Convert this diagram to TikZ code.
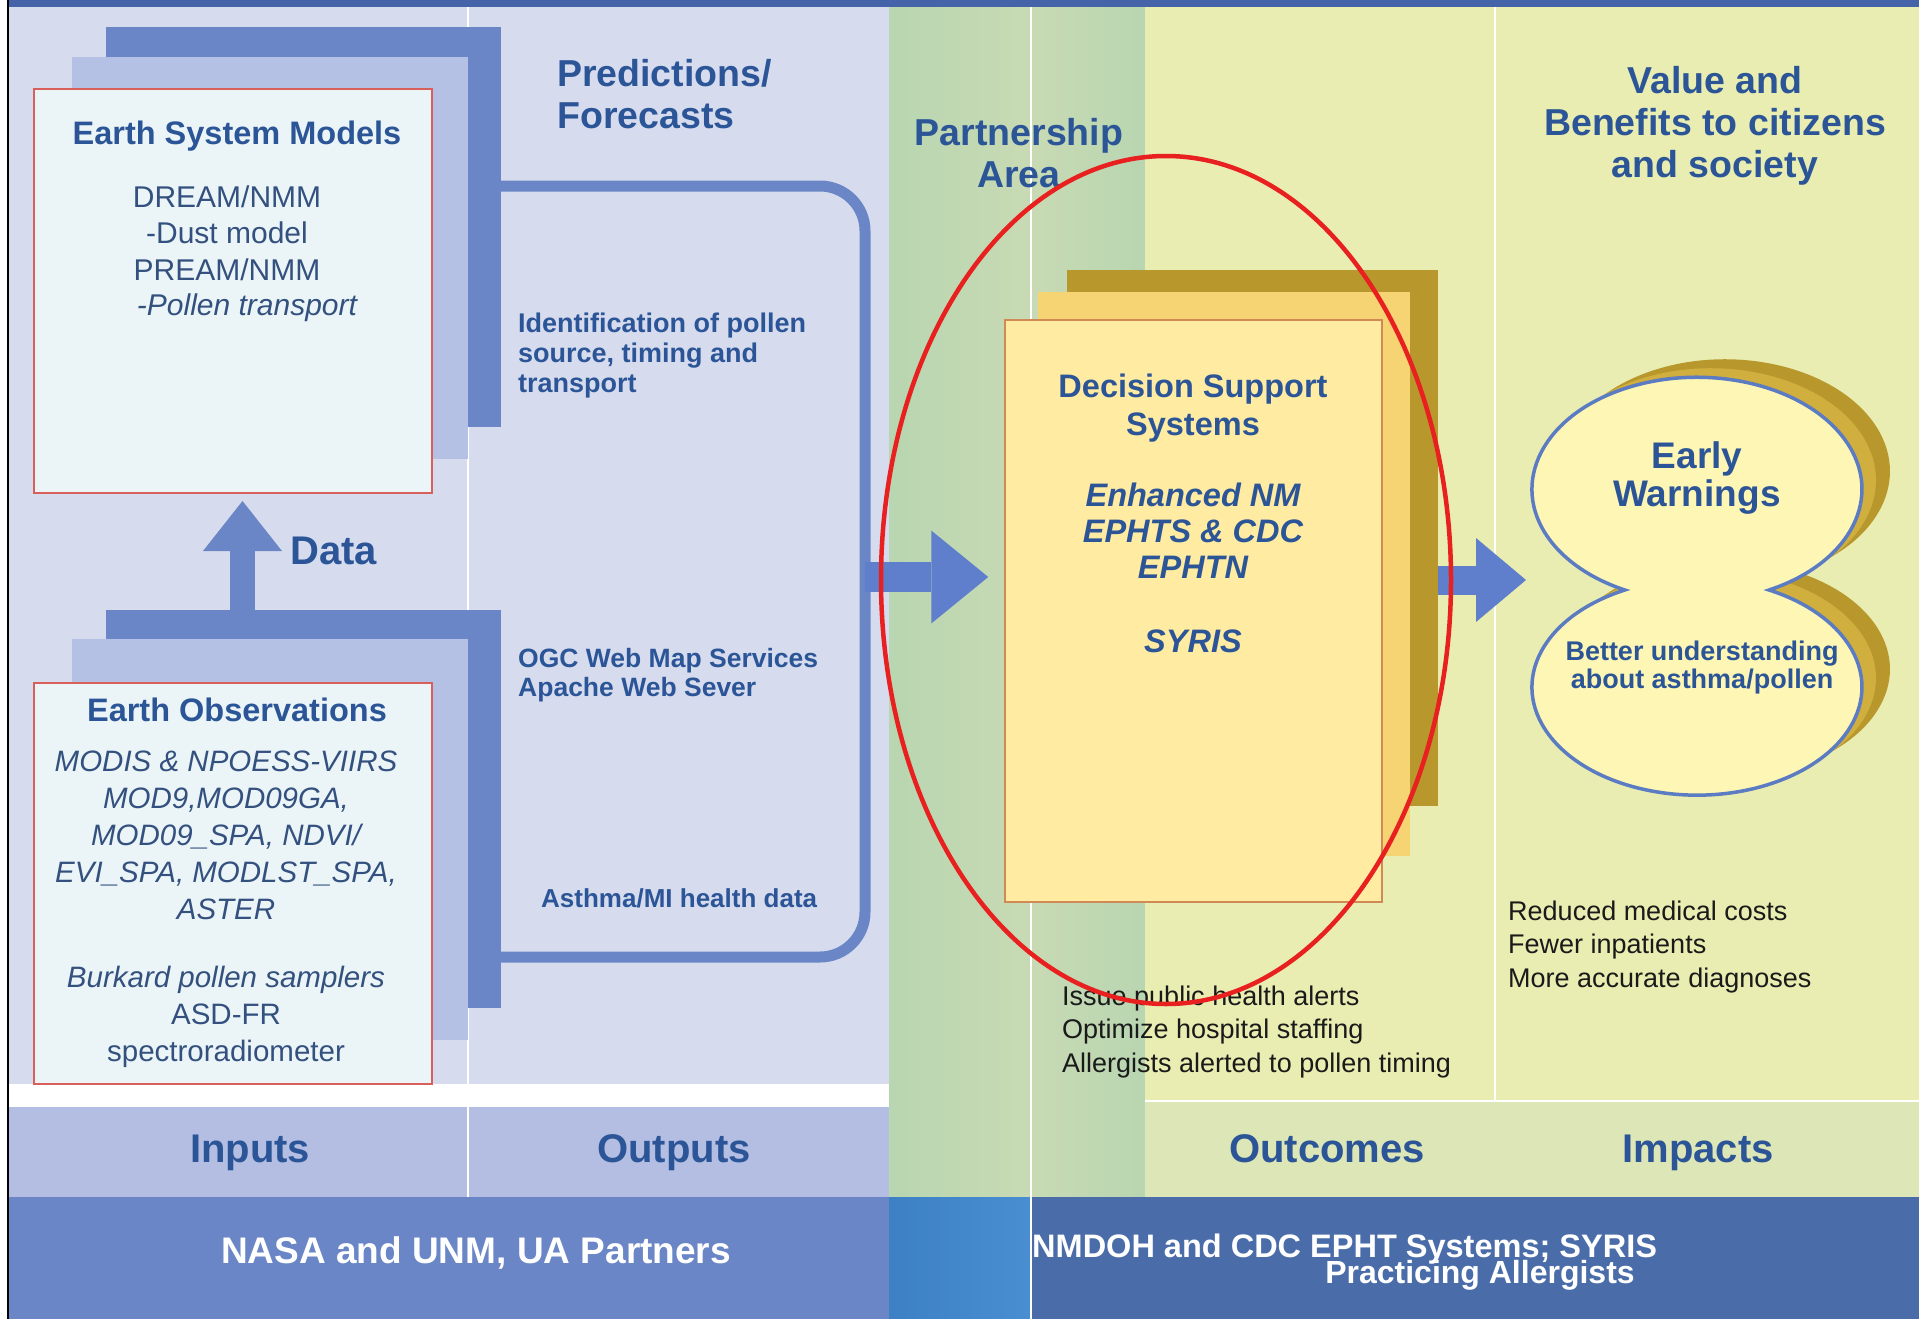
\documentclass[tikz,border=0pt]{standalone}
\usepackage{fontspec}
\setmainfont{Liberation Sans}
\usetikzlibrary{positioning, arrows.meta}

\definecolor{bgblue}{HTML}{D6DCEE}
\definecolor{barblue}{HTML}{6A86C6}
\definecolor{layerblue}{HTML}{B4C0E4}
\definecolor{boxcyan}{HTML}{EBF5F7}
\definecolor{boxred}{HTML}{D9605A}
\definecolor{titleblue}{HTML}{2B5597}
\definecolor{bodyblue}{HTML}{33507F}
\definecolor{bandblue}{HTML}{B3BEE2}
\definecolor{footblue}{HTML}{6A86C6}
\definecolor{footdark}{HTML}{4A6DAA}
\definecolor{footmidA}{HTML}{3D80C4}
\definecolor{footmidB}{HTML}{4A8ED2}
\definecolor{topblue}{HTML}{4463A8}
\definecolor{arrowblue}{HTML}{5F7FCC}
\definecolor{greenA}{HTML}{C8DAB4}
\definecolor{greenB}{HTML}{B8D6B1}
\definecolor{paleyellow}{HTML}{E9EDB1}
\definecolor{bandyellow}{HTML}{DDE6B6}
\definecolor{golddark}{HTML}{B8982C}
\definecolor{goldmid}{HTML}{F6D473}
\definecolor{dssfill}{HTML}{FFEBA1}
\definecolor{dssline}{HTML}{CF8A55}
\definecolor{ewfill}{HTML}{FEF6B4}
\definecolor{ewline}{HTML}{5B7BC2}
\definecolor{ewgold}{HTML}{D1AF3E}
\definecolor{markred}{HTML}{E82020}
\definecolor{darktext}{HTML}{1A1A1A}

\begin{document}
\begin{tikzpicture}[x=1pt, y=-1pt,
        sepline/.style={white, line width=2.5pt},
        backbar/.style={fill=barblue, inner sep=0, outer sep=0},
        frontbox/.style={fill=boxcyan, draw=boxred, line width=1.5pt, inner sep=0, outer sep=0},
        boxtitle/.style={font=\bfseries\fontsize{32.5}{38}\selectfont, text=titleblue, inner sep=0, align=center},
        boxbody/.style={font=\fontsize{30}{36.5}\selectfont, text=bodyblue, inner sep=0, align=center},
        coltitle/.style={font=\bfseries\fontsize{37.5}{42}\selectfont, text=titleblue, inner sep=0, align=center},
        outlabel/.style={font=\bfseries\fontsize{27}{30}\selectfont, text=titleblue, inner sep=0, align=left, anchor=west},
        bandlabel/.style={font=\bfseries\fontsize{40}{44}\selectfont, text=titleblue, inner sep=0},
        footlabel/.style={font=\bfseries\fontsize{37}{40}\selectfont, text=white, inner sep=0},
        plainlist/.style={font=\fontsize{27}{33.5}\selectfont, text=darktext, inner sep=0, align=left, anchor=west},
        bracket/.style={draw=barblue, line width=11pt, rounded corners=45pt},
        fatarrow/.style={draw=arrowblue, line width=30pt, -{Triangle[length=57pt, width=93pt, line width=0pt]}},
        midarrow/.style={draw=arrowblue, line width=29pt, -{Triangle[length=50pt, width=84pt, line width=0pt]}},
        dataarrow/.style={draw=barblue, line width=25pt, -{Triangle[length=50pt, width=79pt, line width=0pt]}}]

    \useasboundingbox (0,0) rectangle (1919,1319);

    % background columns
    \fill[white] (0,0) rectangle (1919,1319);
    \fill[bgblue] (7,7) rectangle (889,1084);
    \fill[bandblue] (7,1107) rectangle (889,1197);
    \fill[footblue] (7,1197) rectangle (889,1319);
    \shade[left color=greenB, right color=greenA] (889,7) rectangle (1031,1197);
    \shade[left color=greenA, right color=greenB] (1031,7) rectangle (1145,1197);
    \fill[paleyellow] (1145,7) rectangle (1919,1101);
    \fill[bandyellow] (1145,1101) rectangle (1919,1197);
    \shade[left color=footmidA, right color=footmidB] (889,1197) rectangle (1031,1319);
    \fill[footdark] (1031,1197) rectangle (1919,1319);
    \fill[topblue] (7,0) rectangle (1919,7);
    \draw[black, line width=2pt] (8,0) -- (8,1319);

    \draw[sepline] (468,7) -- (468,1084);
    \draw[sepline] (468,1107) -- (468,1197);
    \draw[sepline] (1031,7) -- (1031,1319);
    \draw[sepline] (1495,7) -- (1495,1101);
    \draw[sepline] (1145,1101) -- (1919,1101);

    % inputs
    \node[backbar, minimum width=395pt, minimum height=400pt] (esmback) at (303.5,227) {};
    \fill[layerblue] (72,57) rectangle (468,459);
    \node[frontbox, minimum width=398pt, minimum height=404pt] (esm) at (233,291) {};

    \node[backbar, minimum width=395pt, minimum height=398pt] (eoback) at (303.5,809) {};
    \fill[layerblue] (72,639) rectangle (468,1040);
    \node[frontbox, minimum width=398pt, minimum height=401pt] (eo) at (233,883.5) {};

    \draw[dataarrow, shorten >=8pt] (eoback.north -| 242.5,0) -- (esm.south -| 242.5,0);

    % outputs
    \draw[bracket] (esmback.east |- 0,186) -- (865,186) -- (865,957) -- (eoback.east |- 0,957);
    \coordinate (split) at (865,577);

    % decision support
    \node[fill=golddark, inner sep=0, minimum width=371pt, minimum height=536pt] (dssback) at (1252.5,538) {};
    \fill[goldmid] (1038,292) rectangle (1410,856);
    \node[fill=dssfill, draw=dssline, line width=1.5pt, inner sep=0, minimum width=377pt, minimum height=582pt] (dss) at (1193.5,611) {};

    \draw[fatarrow, shorten >=16pt] (split) -- (dss.west |- split);

    \coordinate (ewtip) at (1526,580);
    \draw[midarrow] (dssback.east |- ewtip) -- (ewtip);

    % early warnings
    \foreach \dx/\dy/\col in {28/-18/golddark, 14/-9/ewgold} {
        \fill[\col, shift={(\dx,\dy)}] (1769,590) arc[start angle=64.1, end angle=-244.1, x radius=165, y radius=112]
            arc[start angle=244.1, end angle=-64.1, x radius=165, y radius=108] -- cycle;
    }
    \filldraw[fill=ewfill, draw=ewline, line width=3.5pt] (1769,590) arc[start angle=64.1, end angle=-244.1, x radius=165, y radius=112]
        arc[start angle=244.1, end angle=-64.1, x radius=165, y radius=108] -- cycle;

    % texts
    \node[boxtitle] (esmtitle) at (237,136) {Earth System Models};
    \node[boxbody] (esmmodels) at (227,233) {DREAM/NMM\\-Dust model\\PREAM/NMM};
    \node[boxbody, font=\itshape\fontsize{30}{36}\selectfont] (esmpollen) at (247,308) {-Pollen transport};

    \node[boxtitle] (eotitle) at (237,710) {Earth Observations};
    \node[boxbody, font=\itshape\fontsize{29.5}{37}\selectfont] (eosensors) at (226,835)
        {MODIS \& NPOESS-VIIRS\\MOD9,MOD09GA,\\MOD09\_SPA, NDVI/\\EVI\_SPA, MODLST\_SPA,\\ASTER};
    \node[boxbody, font=\fontsize{29.5}{37}\selectfont] (eoground) at (226,1017)
        {\textit{Burkard pollen samplers}\\ASD-FR\\spectroradiometer};

    \node[bandlabel, anchor=west] (datalabel) at (290,551) {Data};

    \node[coltitle, anchor=west, align=left] (predict) at (557,94) {Predictions/\\Forecasts};
    \node[outlabel] (ident) at (518,356) {Identification of pollen\\source, timing and\\transport};
    \node[outlabel, font=\bfseries\fontsize{26.5}{29}\selectfont] (ogc) at (518,675) {OGC Web Map Services\\Apache Web Sever};
    \node[outlabel, font=\bfseries\fontsize{26}{29}\selectfont] (asthma) at (541,898) {Asthma/MI health data};

    \node[coltitle] (partner) at (1019,153) {Partnership\\Area};
    \node[coltitle] (value) at (1715,126) {Value and\\Benefits to citizens\\and society};

    \node[boxtitle] (dsstitle) at (1193,408) {Decision Support\\Systems};
    \node[boxtitle, font=\bfseries\itshape\fontsize{32.5}{36}\selectfont] (dsslist) at (1193,531) {Enhanced NM\\EPHTS \& CDC\\EPHTN};
    \node[boxtitle, font=\bfseries\itshape\fontsize{32.5}{36}\selectfont] (syris) at (1193,641) {SYRIS};

    \node[coltitle, font=\bfseries\fontsize{37}{38}\selectfont] (early) at (1697,478) {Early\\Warnings};
    \node[coltitle, font=\bfseries\fontsize{27}{28}\selectfont] (better) at (1702,668) {Better understanding\\about asthma/pollen};

    \node[plainlist] (outcomelist) at (1062,1032) {Issue public health alerts\\Optimize hospital staffing\\Allergists alerted to pollen timing};
    \node[plainlist] (impactlist) at (1508,947) {Reduced medical costs\\Fewer inpatients\\More accurate diagnoses};

    \node[bandlabel, anchor=base] (inputs) at (250,1162) {Inputs};
    \node[bandlabel, anchor=base] (outputs) at (674,1162) {Outputs};
    \node[bandlabel, anchor=base] (outcomes) at (1327,1162) {Outcomes};
    \node[bandlabel, anchor=base] (impacts) at (1698,1162) {Impacts};

    \node[footlabel] (nasa) at (476,1253) {NASA and UNM, UA Partners};
    \node[footlabel, font=\bfseries\fontsize{32.5}{34}\selectfont, anchor=west] (nmdoh) at (1032,1249) {NMDOH and CDC EPHT Systems; SYRIS};
    \node[footlabel, font=\bfseries\fontsize{32}{34}\selectfont] (allergists) at (1480,1275) {Practicing Allergists};

    % highlight
    \draw[markred, line width=4.5pt] (1166,580) ellipse [x radius=285, y radius=424];

\end{tikzpicture}
\end{document}
